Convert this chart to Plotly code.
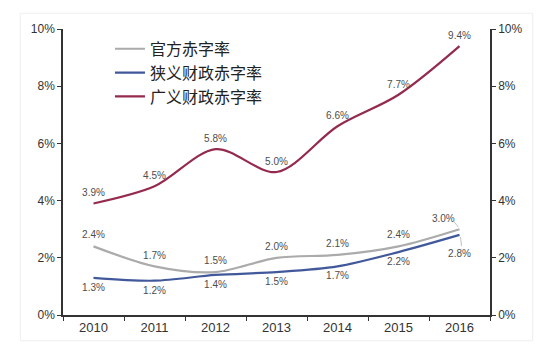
import plotly.graph_objects as go

years = ["2010", "2011", "2012", "2013", "2014", "2015", "2016"]
official = [2.4, 1.7, 1.5, 2.0, 2.1, 2.4, 3.0]
narrow = [1.3, 1.2, 1.4, 1.5, 1.7, 2.2, 2.8]
broad = [3.9, 4.5, 5.8, 5.0, 6.6, 7.7, 9.4]
names = ["官方赤字率", "狭义财政赤字率", "广义财政赤字率"]
y_ticks = [0, 2, 4, 6, 8, 10]
y_tick_labels = ["0%", "2%", "4%", "6%", "8%", "10%"]

colors = ["#ababab", "#41599b", "#952a4f"]
series = [official, narrow, broad]

fig = go.Figure()
for nm, vals, c in zip(names, series, colors):
    fig.add_trace(go.Scatter(
        x=years, y=vals, name=nm, mode="lines",
        line=dict(color=c, width=2.2, shape="spline", smoothing=0.9),
        hoverinfo="skip",
    ))
# invisible trace for right axis
fig.add_trace(go.Scatter(x=years, y=broad, yaxis="y2", mode="lines",
                         line=dict(width=0), showlegend=False, hoverinfo="skip"))

lab_font = dict(family="Liberation Sans, Arial", size=10, color="#4d4d4d")

# data labels: text traces with invisible markers (marker size sets the gap)
positions = [
    (official[:-1], years[:-1], "top center", 7),
    (narrow[:-1], years[:-1], "bottom center", 7),
    (broad, years, "top center", 6),
    (official[-1:], years[-1:], "top left", 6),
    (narrow[-1:], years[-1:], "bottom center", 22),
]
for vals, xs, pos, gap in positions:
    fig.add_trace(go.Scatter(
        x=xs, y=vals, mode="markers+text", text=[f"{v:.1f}%" for v in vals],
        marker=dict(size=gap, color="rgba(0,0,0,0)"),
        textposition=pos, textfont=lab_font, showlegend=False, hoverinfo="skip",
    ))

last = len(years) - 1
# leader lines at 2016 (pixel-sized shapes anchored at the data points)
shapes = [
    dict(type="line", xref="x", yref="y", xsizemode="pixel", ysizemode="pixel",
         xanchor=last, yanchor=official[-1], x0=-1, y0=2, x1=-6, y1=8,
         line=dict(color="#c0c0c0", width=1)),
    dict(type="line", xref="x", yref="y", xsizemode="pixel", ysizemode="pixel",
         xanchor=last, yanchor=narrow[-1], x0=1, y0=-2, x1=2, y1=-11,
         line=dict(color="#c0c0c0", width=1)),
    dict(type="rect", xref="paper", yref="paper",
         x0=-0.1, x1=1.1, y0=-0.09, y1=1.055,
         line=dict(color="#eeeeee", width=1)),
]

axis_common = dict(range=[0, 10], tickvals=y_ticks, ticktext=y_tick_labels,
                   showgrid=False, zeroline=False, showline=True, linecolor="#333333",
                   linewidth=1.5, ticks="outside", ticklen=4, tickcolor="#333333",
                   tickfont=dict(family="Liberation Sans, Arial", size=12, color="#333333"),
                   fixedrange=True)

fig.update_layout(
    width=542, height=348,
    margin=dict(l=55, r=60, t=21, b=41),
    paper_bgcolor="white", plot_bgcolor="white",
    showlegend=True,
    legend=dict(x=0.11, y=0.99, xanchor="left", yanchor="top",
                bgcolor="rgba(0,0,0,0)", tracegroupgap=0,
                font=dict(family="Noto Sans CJK SC", size=16, color="#222222"),
                itemwidth=30),
    xaxis=dict(type="category", showgrid=False, zeroline=False, showline=True,
               linecolor="#333333", linewidth=1.5, ticks="outside", ticklen=4,
               tickson="boundaries", tickcolor="#333333",
               tickfont=dict(family="Liberation Sans, Arial", size=13, color="#333333"),
               range=[-0.5, 6.5]),
    yaxis=axis_common,
    yaxis2=dict(**axis_common, overlaying="y", side="right"),
    shapes=shapes,
)

fig.write_html("out.html")
